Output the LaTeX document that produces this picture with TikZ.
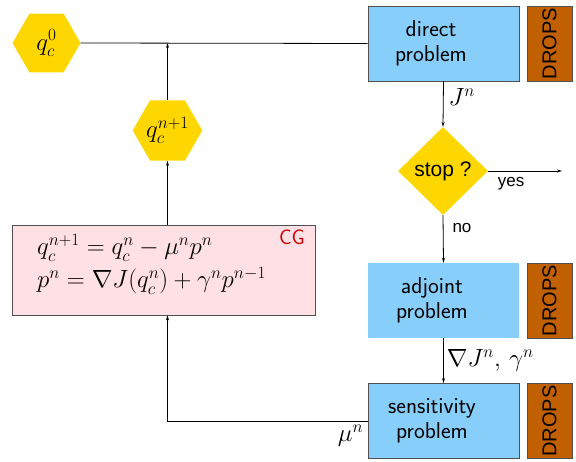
\documentclass[tikz,border=0pt]{standalone}
\usepackage{fontspec}
\newfontfamily\arial{Liberation Sans}
\usetikzlibrary{shapes.geometric,arrows.meta,calc}
\definecolor{gold}{HTML}{FFD700}
\definecolor{sky}{HTML}{87CEFA}
\definecolor{brownish}{HTML}{C06000}
\definecolor{pinkish}{HTML}{FFE0E4}
\definecolor{cgred}{HTML}{CC0000}
\definecolor{bordergray}{HTML}{505050}
\begin{document}
\begin{tikzpicture}[x=1pt,y=1pt,
 every node/.style={font=\fontsize{23}{27}\selectfont},
 hexa/.style={regular polygon, regular polygon sides=6, fill=gold, minimum size=68pt, inner sep=0pt},
 prob/.style={fill=sky, minimum width=151pt, minimum height=75pt, inner sep=0pt},
 probtxt/.style={align=center, inner sep=0pt, font=\fontsize{23}{25}\selectfont\sffamily},
 framed/.style={draw=bordergray, line width=0.8pt},
 dropsbox/.style={fill=brownish, draw=bordergray, line width=0.8pt, rotate=90, minimum width=75pt, minimum height=45pt, inner sep=0pt, font=\fontsize{20}{22}\selectfont\arial},
 arr/.style={-{Stealth[length=5pt,width=3pt]}, line width=0.8pt},
 ln/.style={line width=0.8pt},
 lbl/.style={font=\fontsize{17}{20}\selectfont\arial, inner sep=0pt}
]
\useasboundingbox (0,0) rectangle (576,-462);
% nodes
\node[hexa] (q0) at (46.5,-43) {$q_c^0$};
\node[hexa] (qn) at (167.5,-130.5) {$q_c^{n+1}$};
\node[prob,framed] (direct) at (443.5,-43.5) {};
\node[probtxt] (directtxt) at (431,-43.5) {direct\\problem};
\node[dropsbox] (d1) at (549.5,-43.5) {DROPS};
\node[diamond, fill=gold, minimum width=90pt, minimum height=88pt, inner sep=0pt, font=\fontsize{21}{24}\selectfont\arial] (stop) at (443,-171) {stop ?};
\node[prob] (adj) at (443.5,-300.5) {};
\node[probtxt] (adjtxt) at (432,-300.5) {adjoint\\problem};
\node[dropsbox] (d2) at (549.5,-300.5) {DROPS};
\node[prob,framed] (sens) at (443.5,-421) {};
\node[probtxt] (senstxt) at (432,-421) {sensitivity\\problem};
\node[dropsbox] (d3) at (549.5,-421) {DROPS};
\node[draw=bordergray, fill=pinkish, minimum width=303pt, minimum height=90pt, inner sep=0pt, line width=0.8pt] (cg) at (163.5,-270) {};
\node[text=cgred, inner sep=0pt, font=\fontsize{21}{24}\selectfont\sffamily] (cglabel) at (292,-237) {CG};
\node[anchor=base west, inner sep=0pt] (eq1) at (37,-255) {$q_c^{n+1} = q_c^n - \mu^n p^n$};
\node[anchor=base west, inner sep=0pt] (eq2) at (37,-288) {$p^n = \nabla J(q_c^n) + \gamma^n p^{n-1}$};
\coordinate (exit) at (562,-171);
% connectors
\draw[ln] (q0.east) -- (direct.west);
\draw[arr] (qn.north) -- (qn.north |- q0.east);
\draw[arr] (qn.south |- cg.north) -- (qn.south);
\draw[arr] (direct.south) -- node[right, inner sep=5pt, pos=0.35] {$J^n$} (stop.north);
\draw[arr] (stop.east) -- node[lbl, below, pos=0.31, yshift=-6pt] {yes} (exit);
\draw[arr] (stop.south) -- node[lbl, right, pos=0.27, xshift=9pt] {no} (adj.north);
\draw[arr] (adj.south) -- node[right, inner sep=3pt] {$\nabla J^n,\,\gamma^n$} (sens.north);
\draw[arr] (sens.west) node[below left, inner sep=4pt] {$\mu^n$} -| (qn.south |- cg.south);
\end{tikzpicture}
\end{document}
